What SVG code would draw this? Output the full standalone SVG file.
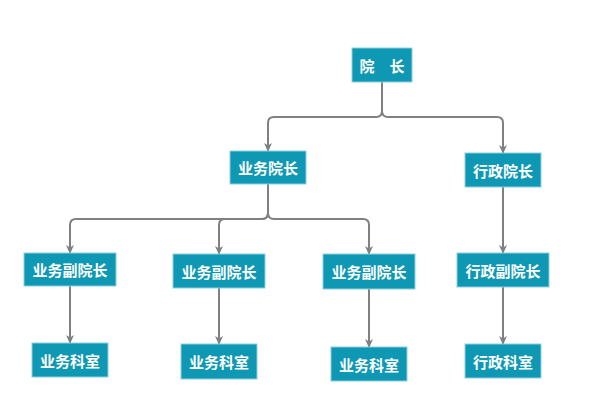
<svg xmlns="http://www.w3.org/2000/svg" width="608" height="412" viewBox="0 0 608 412">
<style>
.box{fill:#0f98b3;stroke:#8ccfdc;stroke-width:1}
.t{fill:#ffffff;font-family:"Noto Sans CJK SC","Noto Sans",sans-serif;font-weight:bold;font-size:15px;text-anchor:middle;dominant-baseline:central}
.c{fill:none;stroke:#808080;stroke-width:2;marker-end:url(#a)}
</style>
<defs>
<marker id="a" markerWidth="10" markerHeight="10" refX="8" refY="5" orient="auto" markerUnits="userSpaceOnUse">
<path d="M0,1 L9,5 L0,9 L2.5,5 z" fill="#808080"/>
</marker>
</defs>
<rect width="608" height="412" fill="#ffffff"/>
<g id="connectors">
<path class="c" d="M382 82 V111 Q382 117 376 117 H274 Q268 117 268 123 V151"/>
<path class="c" d="M382 82 V111 Q382 117 388 117 H497 Q503 117 503 123 V153"/>
<path class="c" d="M268 184 V213 Q268 219 262 219 H76 Q70 219 70 225 V253"/>
<path class="c" d="M268 184 V213 Q268 219 262 219 H225 Q219 219 219 225 V254"/>
<path class="c" d="M268 184 V213 Q268 219 274 219 H363 Q369 219 369 225 V254"/>
<path class="c" d="M503 187 V253"/>
<path class="c" d="M70 286 V343"/>
<path class="c" d="M219 288 V344"/>
<path class="c" d="M369 289 V347"/>
<path class="c" d="M503 287 V344"/>
</g>
<g id="n_yuanzhang"><rect class="box" x="352" y="48" width="60" height="34"/><text class="t" x="382" y="65">院　长</text></g>
<g id="n_yewu"><rect class="box" x="230" y="151" width="76" height="33"/><text class="t" x="268" y="167.5">业务院长</text></g>
<g id="n_xingzheng"><rect class="box" x="465" y="153" width="76" height="34"/><text class="t" x="503" y="170">行政院长</text></g>
<g id="n_fu1"><rect class="box" x="24" y="253" width="92" height="33"/><text class="t" x="70" y="269.5">业务副院长</text></g>
<g id="n_fu2"><rect class="box" x="173" y="254" width="92" height="34"/><text class="t" x="219" y="271">业务副院长</text></g>
<g id="n_fu3"><rect class="box" x="323" y="254" width="92" height="35"/><text class="t" x="369" y="271.5">业务副院长</text></g>
<g id="n_fu4"><rect class="box" x="457" y="253" width="92" height="34"/><text class="t" x="503" y="270">行政副院长</text></g>
<g id="n_ks1"><rect class="box" x="32" y="343" width="76" height="34"/><text class="t" x="70" y="360">业务科室</text></g>
<g id="n_ks2"><rect class="box" x="181" y="344" width="76" height="35"/><text class="t" x="219" y="361.5">业务科室</text></g>
<g id="n_ks3"><rect class="box" x="331" y="347" width="76" height="34"/><text class="t" x="369" y="364">业务科室</text></g>
<g id="n_ks4"><rect class="box" x="465" y="344" width="76" height="34"/><text class="t" x="503" y="361">行政科室</text></g>
</svg>
